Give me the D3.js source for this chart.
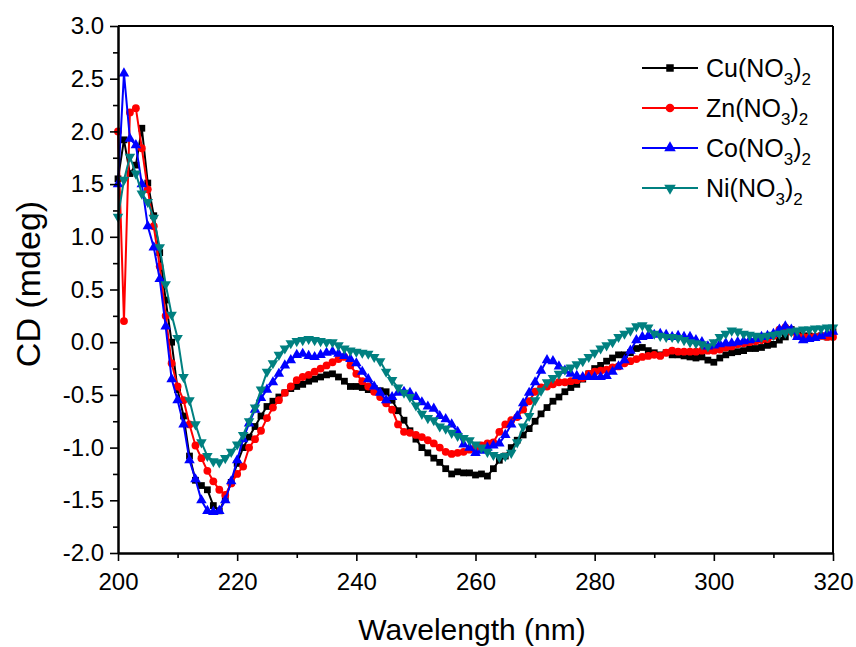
<!DOCTYPE html>
<html><head><meta charset="utf-8">
<script src="https://cdn.jsdelivr.net/npm/d3@7"></script>
<style>body{margin:0;background:#fff;}svg{display:block;font-family:"Liberation Sans",Arial,sans-serif;}</style>
</head><body>
<svg id="c" width="856" height="647"></svg>
<script>
const wavelengths = d3.range(200, 321, 1);
const cuValues = [1.55,1.92,1.60,1.68,2.03,1.51,1.20,0.85,0.40,0.00,
-0.45,-0.70,-1.08,-1.31,-1.36,-1.40,-1.55,-1.60,-1.48,-1.33,
-1.15,-1.00,-0.90,-0.80,-0.70,-0.61,-0.56,-0.52,-0.48,-0.44,
-0.42,-0.40,-0.37,-0.35,-0.33,-0.31,-0.30,-0.33,-0.37,-0.42,
-0.42,-0.43,-0.45,-0.44,-0.46,-0.47,-0.55,-0.65,-0.74,-0.84,
-0.92,-1.00,-1.05,-1.10,-1.14,-1.20,-1.25,-1.23,-1.24,-1.24,
-1.26,-1.25,-1.27,-1.20,-1.12,-1.08,-1.00,-0.93,-0.88,-0.82,
-0.75,-0.68,-0.62,-0.56,-0.52,-0.47,-0.43,-0.40,-0.35,-0.30,
-0.25,-0.22,-0.18,-0.15,-0.12,-0.12,-0.10,-0.06,-0.05,-0.08,
-0.10,-0.12,-0.10,-0.12,-0.12,-0.13,-0.14,-0.15,-0.14,-0.17,
-0.19,-0.15,-0.12,-0.10,-0.09,-0.08,-0.06,-0.06,-0.05,-0.03,
-0.02,0.02,0.05,0.12,0.10,0.06,0.06,0.05,0.06,0.05,
0.10];
const znValues = [2.00,0.20,2.18,2.22,1.84,1.45,1.10,0.72,0.25,-0.20,
-0.42,-0.55,-0.78,-0.98,-1.10,-1.22,-1.32,-1.40,-1.45,-1.34,
-1.25,-1.18,-1.00,-0.92,-0.84,-0.72,-0.62,-0.55,-0.48,-0.42,
-0.36,-0.33,-0.31,-0.28,-0.25,-0.22,-0.19,-0.16,-0.14,-0.22,
-0.30,-0.37,-0.42,-0.47,-0.52,-0.58,-0.64,-0.78,-0.85,-0.86,
-0.88,-0.90,-0.93,-0.96,-1.00,-1.04,-1.06,-1.05,-1.04,-1.02,
-1.00,-0.98,-0.96,-0.95,-0.85,-0.78,-0.74,-0.71,-0.64,-0.56,
-0.47,-0.43,-0.42,-0.40,-0.38,-0.38,-0.37,-0.36,-0.34,-0.30,
-0.28,-0.27,-0.26,-0.24,-0.23,-0.20,-0.18,-0.16,-0.14,-0.13,
-0.12,-0.13,-0.10,-0.08,-0.09,-0.09,-0.09,-0.09,-0.08,-0.08,
-0.08,-0.07,-0.05,-0.04,-0.02,-0.01,0.00,0.01,0.02,0.03,
0.06,0.12,0.14,0.10,0.06,0.05,0.05,0.05,0.06,0.05,
0.05];
const coValues = [1.50,2.55,1.93,1.87,1.50,1.10,0.90,0.60,0.15,-0.35,
-0.55,-0.78,-1.12,-1.30,-1.50,-1.60,-1.61,-1.60,-1.50,-1.32,
-1.12,-0.92,-0.77,-0.64,-0.53,-0.45,-0.38,-0.30,-0.22,-0.17,
-0.12,-0.11,-0.13,-0.14,-0.12,-0.10,-0.09,-0.11,-0.13,-0.16,
-0.20,-0.28,-0.35,-0.42,-0.48,-0.55,-0.52,-0.48,-0.47,-0.48,
-0.52,-0.57,-0.61,-0.63,-0.70,-0.73,-0.78,-0.85,-0.97,-1.00,
-1.05,-1.03,-1.00,-0.98,-0.96,-0.88,-0.78,-0.70,-0.58,-0.48,
-0.38,-0.27,-0.17,-0.18,-0.23,-0.27,-0.30,-0.32,-0.33,-0.33,
-0.33,-0.33,-0.32,-0.28,-0.23,-0.17,-0.08,0.02,0.05,0.06,
0.07,0.08,0.07,0.05,0.06,0.05,0.05,0.02,0.00,-0.04,
-0.03,-0.02,-0.01,-0.01,0.00,0.01,0.02,0.03,0.05,0.06,
0.08,0.12,0.15,0.12,0.05,0.02,0.03,0.04,0.06,0.08,
0.10];
const niValues = [1.19,1.54,1.76,1.60,1.41,1.33,1.18,0.90,0.55,0.26,
0.04,-0.33,-0.55,-0.78,-0.95,-1.08,-1.13,-1.14,-1.10,-1.04,
-0.97,-0.88,-0.75,-0.62,-0.45,-0.28,-0.20,-0.12,-0.06,-0.01,
0.01,0.02,0.03,0.02,0.01,0.00,0.00,-0.03,-0.06,-0.08,
-0.09,-0.10,-0.11,-0.14,-0.18,-0.28,-0.36,-0.43,-0.48,-0.52,
-0.60,-0.68,-0.72,-0.74,-0.80,-0.82,-0.86,-0.89,-0.91,-0.93,
-0.97,-1.00,-1.04,-1.07,-1.09,-1.08,-1.05,-0.95,-0.80,-0.70,
-0.55,-0.46,-0.38,-0.34,-0.30,-0.26,-0.24,-0.21,-0.18,-0.14,
-0.10,-0.06,-0.03,0.00,0.05,0.08,0.11,0.15,0.16,0.14,
0.08,0.06,0.05,0.05,0.04,0.02,0.00,-0.01,-0.02,-0.04,
0.00,0.05,0.08,0.11,0.10,0.08,0.07,0.06,0.05,0.06,
0.07,0.08,0.09,0.10,0.11,0.12,0.12,0.13,0.13,0.14,
0.14];
const seriesNames = ["Cu", "Zn", "Co", "Ni"];
const seriesColors = ["#000000", "#ff0000", "#0000ff", "#008080"];
const xTicks = [200, 220, 240, 260, 280, 300, 320];
const yTicks = [-2.0, -1.5, -1.0, -0.5, 0.0, 0.5, 1.0, 1.5, 2.0, 2.5, 3.0];

const allValues = [cuValues, znValues, coValues, niValues];
const symbols = [d3.symbolSquare, d3.symbolCircle, d3.symbolTriangle, d3.symbolTriangle];
const symSizes = [46, 48, 48, 48];
const rotations = [0, 0, 0, 180];

const svg = d3.select("#c");
const L = 118, R = 833, T = 26, B = 553;
const x = d3.scaleLinear().domain([200, 320]).range([L, R]);
const y = d3.scaleLinear().domain([-2, 3]).range([B, T]);

// series
const line = d3.line().x(d => x(d[0])).y(d => y(d[1]));
allValues.forEach((vals, i) => {
  const pts = wavelengths.map((w, j) => [w, vals[j]]);
  const g = svg.append("g");
  g.append("path").attr("d", line(pts)).attr("fill", "none")
    .attr("stroke", seriesColors[i]).attr("stroke-width", 2);
  const sym = d3.symbol().type(symbols[i]).size(symSizes[i]);
  g.selectAll("path.m").data(pts).enter().append("path").attr("class", "m")
    .attr("d", sym)
    .attr("transform", d => `translate(${x(d[0])},${y(d[1])}) rotate(${rotations[i]})`)
    .attr("fill", seriesColors[i]);
});

// axes
const yFmt = d => d.toFixed(1);
const xAxis = svg.append("g").attr("transform", `translate(0,${B})`)
  .call(d3.axisBottom(x).tickValues(xTicks).tickSize(8).tickSizeOuter(0).tickPadding(10).tickFormat(d => String(d)));
const xMinor = svg.append("g").attr("transform", `translate(0,${B})`)
  .call(d3.axisBottom(x).tickValues(d3.range(210, 320, 20)).tickSize(5).tickSizeOuter(0).tickFormat(""));
const yAxis = svg.append("g").attr("transform", `translate(${L},0)`)
  .call(d3.axisLeft(y).tickValues(yTicks).tickSize(8).tickSizeOuter(0).tickPadding(6).tickFormat(yFmt));
const yMinor = svg.append("g").attr("transform", `translate(${L},0)`)
  .call(d3.axisLeft(y).tickValues(d3.range(-1.75, 3, 0.5)).tickSize(5).tickSizeOuter(0).tickFormat(""));
[xAxis, xMinor, yAxis, yMinor].forEach(a => {
  a.selectAll("path.domain").attr("stroke", "#000").attr("stroke-width", 2);
  a.selectAll(".tick line").attr("stroke", "#000").attr("stroke-width", 1.6);
  a.selectAll(".tick text").attr("fill", "#000").style("font-size", "24px")
    .style("font-family", "'Liberation Sans', Arial, sans-serif");
});
xAxis.selectAll(".tick text").attr("dy", "0.8em");

// frame top/right
svg.append("line").attr("x1", L).attr("x2", R).attr("y1", T).attr("y2", T).attr("stroke", "#000").attr("stroke-width", 2);
svg.append("line").attr("x1", R).attr("x2", R).attr("y1", T).attr("y2", B).attr("stroke", "#000").attr("stroke-width", 2);

// axis titles
svg.append("text").attr("x", 472).attr("y", 640).attr("text-anchor", "middle")
  .style("font-size", "30px").text("Wavelength (nm)");
svg.append("text").attr("transform", "translate(40,284) rotate(-90)").attr("text-anchor", "middle")
  .style("font-size", "34px").text("CD (mdeg)");

// legend
const legY = [68, 108, 148, 188];
seriesNames.forEach((n, i) => {
  const g = svg.append("g");
  g.append("line").attr("x1", 642).attr("x2", 698).attr("y1", legY[i]).attr("y2", legY[i])
    .attr("stroke", seriesColors[i]).attr("stroke-width", 2);
  g.append("path").attr("d", d3.symbol().type(symbols[i]).size(symSizes[i] + 10)())
    .attr("transform", `translate(670,${legY[i]}) rotate(${rotations[i]})`).attr("fill", seriesColors[i]);
  const t = g.append("text").attr("x", 706).attr("y", legY[i] + 9).style("font-size", "25px");
  t.append("tspan").text(n + "(NO");
  t.append("tspan").text("3").style("font-size", "17px").attr("dy", 8);
  t.append("tspan").text(")").attr("dy", -8);
  t.append("tspan").text("2").style("font-size", "17px").attr("dy", 8);
});
</script>
</body></html>
